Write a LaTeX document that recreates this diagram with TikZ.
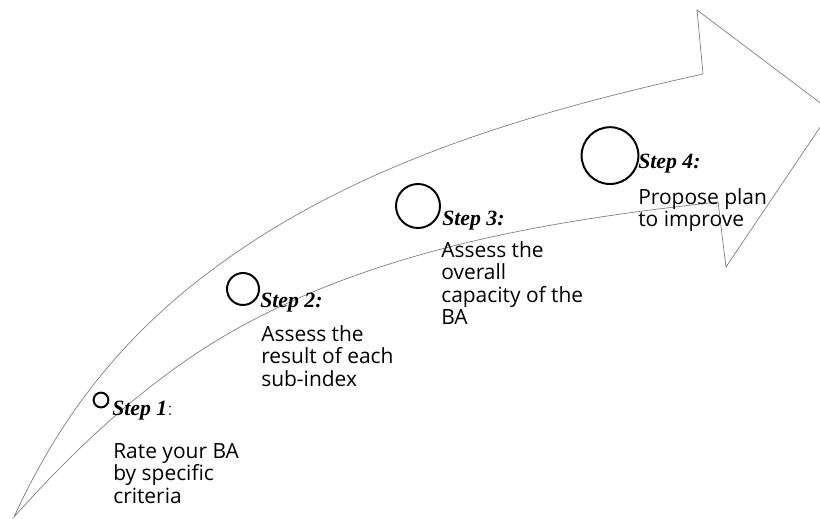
\documentclass[tikz,border=0pt]{standalone}
\usepackage{fontspec}
\newfontfamily\bodyfont{Open Sans}
\newfontfamily\titlefont{Liberation Serif}
\tikzset{
  arrowline/.style={draw=gray,line width=0.5pt,line join=miter},
  stepdot/.style={draw,circle,line width=1.4pt,inner sep=0pt},
  steptitle/.style={anchor=base west,inner sep=0pt,font=\titlefont\fontsize{15.5}{18}\selectfont\bfseries\itshape},
  steptext/.style={anchor=base west,inner sep=0pt,align=left,font=\bodyfont\fontsize{14.9}{16}\selectfont},
}

\begin{document}
\begin{tikzpicture}
        %\draw[step=.5cm,gray,very thin] (0,0) grid (20.5,12.95);
        \clip (0,0) rectangle (20.5,12.95);
        % arrow outline, upper edge then head then lower edge
        \draw[arrowline] (0.35,0.025) .. controls (1.7,2.975) and (3.525,5.025) .. (6,6.7)
          .. controls (9.41,9.02) and (13.55,10.21) .. (17.575,11.1)
          -- (17.425,12.7) -- (20.775,10.175) -- (18.15,6.275) -- (17.95,7.9)
          .. controls (13.85,7.45) and (9.61,6.76) .. (6,4.775)
          .. controls (3.855,3.595) and (1.98,1.85) .. cycle;
        \node[stepdot,minimum size=0.37cm] (c1) at (2.525,2.95) {};
        \node[stepdot,minimum size=0.8cm] (c2) at (6.075,5.725) {};
        \node[stepdot,minimum size=1.1cm] (c3) at (10.45,7.8) {};
        \node[stepdot,minimum size=1.42cm] (c4) at (15.25,9.06) {};
        \node[steptitle] (s1) at (2.8,2.575) {Step 1\textnormal{:}};
        \node[steptitle] (s2) at (6.5,5.26) {Step 2:};
        \node[steptitle] (s3) at (11.05,7.325) {Step 3:};
        \node[steptitle] (s4) at (15.95,8.75) {Step 4:};
        % base anchor sits on the last line
        \node[steptext] (t1) at (2.825,0.375) {Rate your BA\\by specific\\criteria};
        \node[steptext] (t2) at (6.525,3.3) {Assess the\\result of each\\sub-index};
        \node[steptext] (t3) at (11.025,4.8375) {Assess the\\overall\\capacity of the\\BA};
        \node[steptext] (t4) at (15.95,7.2875) {Propose plan\\to improve};
      \end{tikzpicture}
\end{document}
